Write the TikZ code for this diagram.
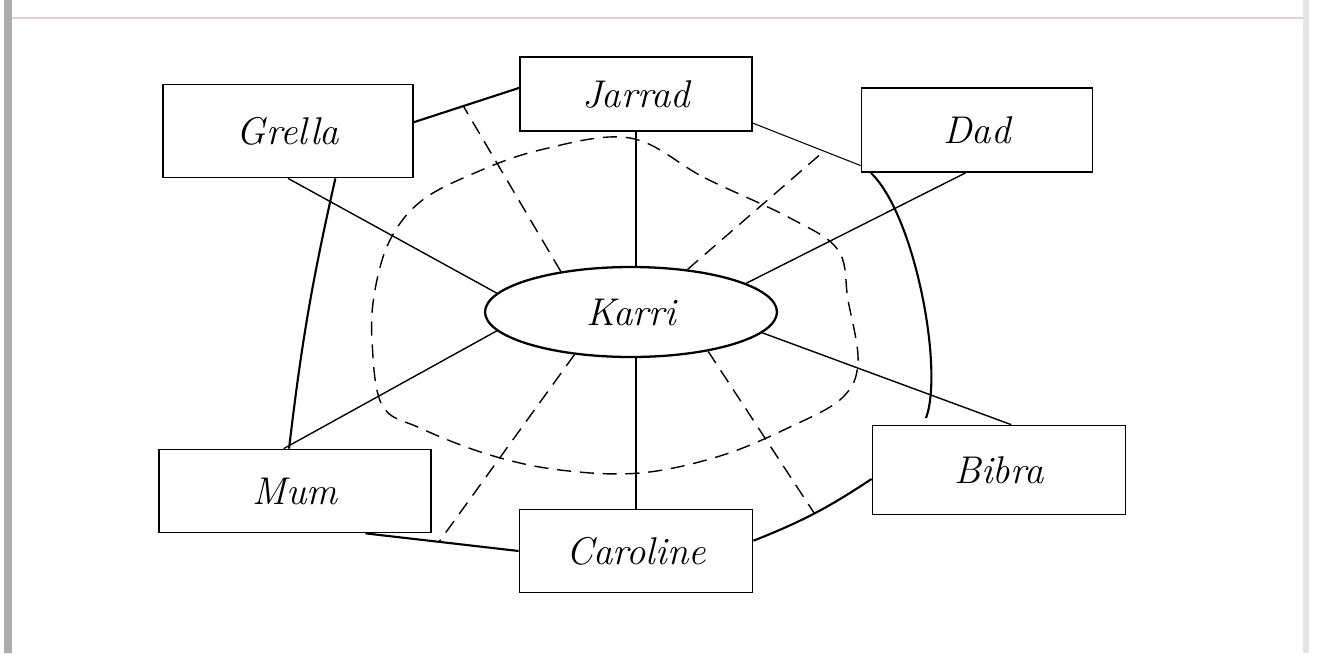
\documentclass[tikz,border=0pt]{standalone}
\usetikzlibrary{shapes.geometric}

\tikzset{
	box/.style = { draw, line width = 1pt, inner sep = 0pt, font = \fontsize{22}{26}\selectfont\itshape },
	spoke/.style = { line width = 0.8pt },
	ring/.style = { line width = 1.2pt },
	dashspoke/.style = { line width = 0.8pt, dash pattern = on 8pt off 5pt },
}

\begin{document}
\begin{tikzpicture}[x=0.02cm, y=-0.02cm]
		\useasboundingbox ( 0, 0 ) rectangle ( 1317, 653 );

		% края листа
		\fill [gray!65] ( 4, 0 ) rectangle ( 12, 653 );
		\fill [gray!20] ( 1303, 0 ) rectangle ( 1309, 653 );
		\draw [violet!20, line width = 1pt] ( 12, 18 ) -- ( 1303, 18 );

		% внутреннее кольцо
		\draw [dashspoke] plot [smooth cycle, tension = 0.6] coordinates {
			( 630, 138 ) ( 705, 178 ) ( 790, 218 ) ( 838, 250 ) ( 848, 300 ) ( 858, 362 )
			( 842, 398 ) ( 790, 427 ) ( 720, 456 ) ( 640, 473 ) ( 560, 470 ) ( 490, 455 )
			( 420, 428 ) ( 382, 405 ) ( 372, 340 ) ( 375, 290 ) ( 390, 240 ) ( 420, 202 )
			( 470, 175 ) ( 540, 150 ) };

		% узлы
		\node [box, minimum width = 5cm, minimum height = 1.86cm] (grella) at ( 288, 131 ) {Grella};
		\node [box, minimum width = 4.64cm, minimum height = 1.48cm] (jarrad) at ( 636, 94 ) {Jarrad};
		\node [box, minimum width = 4.62cm, minimum height = 1.68cm] (dad) at ( 977, 130 ) {Dad};
		\node [box, minimum width = 5.44cm, minimum height = 1.66cm] (mum) at ( 295, 491 ) {Mum};
		\node [box, minimum width = 4.66cm, minimum height = 1.66cm] (caroline) at ( 636, 551 ) {Caroline};
		\node [box, minimum width = 5.06cm, minimum height = 1.78cm] (bibra) at ( 999, 470 ) {Bibra};
		\node [box, ellipse, line width = 1.3pt, minimum width = 5.84cm, minimum height = 1.8cm] (karri) at ( 631, 312 ) {Karri};

		% внешнее кольцо
		\draw [ring] (grella.4) -- coordinate [pos = 0.47] (gj) (jarrad.177);
		\draw [line width = 0.6pt] (jarrad.-14) -- coordinate [pos = 0.66] (jd) (dad.197);
		\draw [ring, shorten >= 4pt] (dad.202) .. controls ( 915, 215 ) and ( 944, 370 ) .. (bibra.149);
		\draw [ring] (bibra.184) to [bend left = 6] coordinate [pos = 0.5] (bc) (caroline.5);
		\draw [ring] (caroline.west) -- coordinate [pos = 0.52] (mc) (mum.-31);
		\draw [ring] (mum.98) to [bend left = 3] (grella.-45);

		% связи
		\draw [spoke] (karri.172) -- (grella.south);
		\draw [spoke] (jarrad.south) -- (jarrad.south |- karri.north);
		\draw [spoke] (karri.14.5) -- (dad.255);
		\draw [spoke] (karri.-9) -- (bibra.75);
		\draw [spoke] (caroline.north |- karri.south) -- (caroline.north);
		\draw [spoke] (karri.188) -- (mum.105);

		% пунктирные связи
		\draw [dashspoke] (karri.150) -- (gj);
		\draw [dashspoke] (karri.37) -- (jd);
		\draw [dashspoke] (karri.-27) -- (bc);
		\draw [dashspoke] (karri.217) -- (mc);
	\end{tikzpicture}
\end{document}
